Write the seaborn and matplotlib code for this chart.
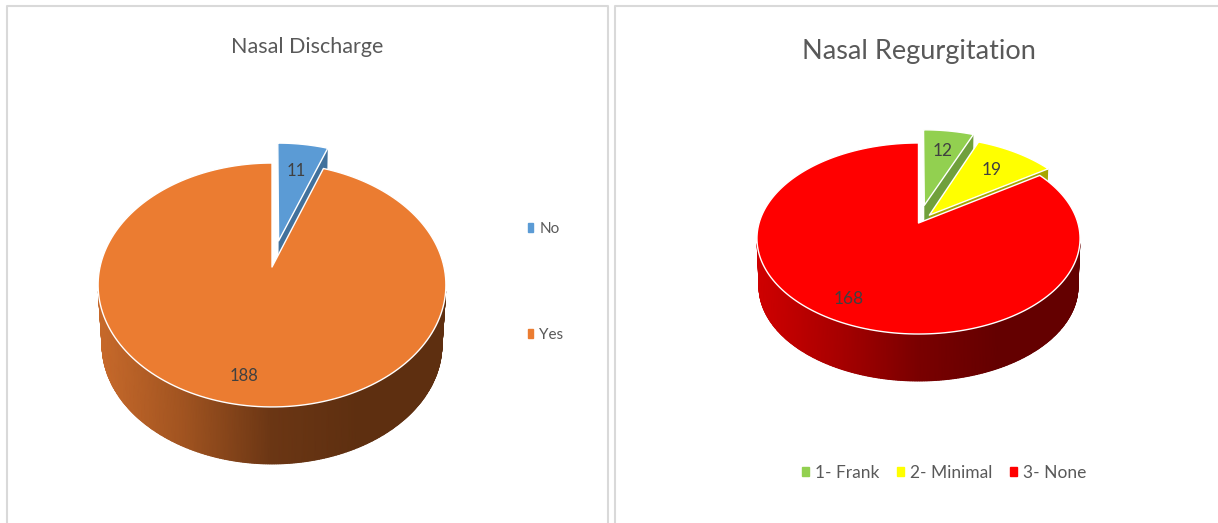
import numpy as np
import matplotlib
matplotlib.use('Agg')
import matplotlib.pyplot as plt
from matplotlib.patches import Patch
import seaborn as sns

# values
discharge_labels = ['No', 'Yes']
discharge_values = [11, 188]
regurg_labels = ['1- Frank', '2- Minimal', '3- None']
regurg_values = [12, 19, 168]

sns.set_theme(style='white')
plt.rcParams['font.family'] = ['Lato', 'DejaVu Sans']

TEXT = '#595959'
LABEL = '#404040'
FRAME = '#d9d9d9'


def project(u, v, geo):
    # flat disc coords to picture pixels, with a bit of perspective
    w = 1 + geo['p'] * v
    return geo['x0'] + geo['A'] * u / w, geo['y0'] - geo['B'] * v / w


def drop(x, y, geo):
    # top rim point to the matching point on the bottom rim
    xb = geo['x0'] + (x - geo['x0']) * geo['s']
    yb = geo['cy'] + geo['d'] + (y - geo['cy']) * geo['s']
    return xb, yb


def draw_pie(ax, values, colors, side_colors, front_stops, explode, geo):
    total = sum(values)
    fracs = np.array(values) / total
    starts = np.concatenate([[0], np.cumsum(fracs)[:-1]]) * 2 * np.pi
    ends = starts + fracs * 2 * np.pi

    for i in range(len(values)):
        mid = (starts[i] + ends[i]) / 2
        ex, ey = explode[i] * np.sin(mid), explode[i] * np.cos(mid)
        t = np.linspace(starts[i], ends[i], 200)
        u = np.concatenate([[ex], ex + np.sin(t), [ex]])
        v = np.concatenate([[ey], ey + np.cos(t), [ey]])
        x, y = project(u, v, geo)

        if i == len(values) - 1:
            # the big slice has the round front wall
            skip = np.arcsin(geo['p']) + 0.05
            a = np.linspace(np.pi + skip, 2 * np.pi - skip, 300)
            xt, yt = project(np.cos(a), np.sin(a), geo)
            xb, yb = drop(xt, yt, geo)
            X = np.vstack([xt, xb])
            Y = np.vstack([yt, yb])
            C = (X - X.min()) / (X.max() - X.min())
            cmap = sns.blend_palette(front_stops, as_cmap=True)
            ax.pcolormesh(X, Y, C, cmap=cmap, shading='gouraud', zorder=2 + i * 2)
        else:
            # cut face of a pulled out slice, mostly hidden by the next one
            xa, ya = project(np.array([ex, ex + np.sin(ends[i])]),
                             np.array([ey, ey + np.cos(ends[i])]), geo)
            xc, yc = drop(xa, ya, geo)
            ax.fill([xa[0], xa[1], xc[1], xc[0]], [ya[0], ya[1], yc[1], yc[0]],
                    color=side_colors[i], lw=0, zorder=2 + i * 2)

        ax.fill(x, y, facecolor=colors[i], edgecolor='white', lw=1.0,
                joinstyle='round', zorder=3 + i * 2)

        r = 0.82 if fracs[i] > 0.5 else 0.7
        lx, ly = project(ex + r * np.sin(mid), ey + r * np.cos(mid), geo)
        ax.text(lx, ly, str(values[i]), color=LABEL, fontsize=geo['fs'],
                ha='center', va='center', zorder=20)


fig, (ax1, ax2) = plt.subplots(1, 2, figsize=(12.18, 5.23), dpi=100)
ax1.set_position([0, 0, 610 / 1218, 1])
ax2.set_position([610 / 1218, 0, 608 / 1218, 1])
ax1.set_xlim(0, 610)
ax2.set_xlim(610, 1218)
for ax in (ax1, ax2):
    ax.set_ylim(523, 0)
    ax.axis('off')

# panel borders
ax1.plot([7, 7, 607.5, 607.5], [523, 6, 6, 523], color=FRAME, lw=1.5)
ax2.plot([615, 615, 1218], [523, 6, 6], color=FRAME, lw=1.5)

left_colors = sns.color_palette(['#5b9bd5', '#eb7c31'])
left_sides = ['#41719c', '#ae5a21']
left_front = ['#c86a2b', '#a05320', '#6b3614', '#5e2f10', '#5e2f10']
draw_pie(ax1, discharge_values, left_colors, left_sides, left_front, [0.23, 0],
         dict(x0=272, y0=267, A=172, B=119.3, p=0.1475, cy=285, s=0.977, d=59.8, fs=12))

right_colors = sns.color_palette(['#92d050', '#ffff00', '#ff0000'])
right_sides = ['#70a03c', '#a6a600', '#b00000']
right_front = ['#d00000', '#a80000', '#7a0000', '#640000', '#640000']
draw_pie(ax2, regurg_values, right_colors, right_sides, right_front, [0.2, 0.11, 0],
         dict(x0=918.5, y0=223, A=159.4, B=93, p=0.1623, cy=238.5, s=0.987, d=48.2, fs=12.5))

ax1.text(307, 47, 'Nasal Discharge', color=TEXT, fontsize=15.5, ha='center', va='center')
ax2.text(919, 51, 'Nasal Regurgitation', color=TEXT, fontsize=19.5, ha='center', va='center')

h1 = [Patch(color=c, label=l) for c, l in zip(left_colors, discharge_labels)]
ax1.legend(handles=h1, loc='center left', bbox_to_anchor=(528, 282),
           bbox_transform=ax1.transData, frameon=False, fontsize=11, labelcolor=TEXT,
           handlelength=0.35, handleheight=0.5, handletextpad=0.4, labelspacing=6.0,
           borderpad=0, borderaxespad=0)

h2 = [Patch(color=c, label=l) for c, l in zip(right_colors, regurg_labels)]
ax2.legend(handles=h2, loc='center', bbox_to_anchor=(944, 473),
           bbox_transform=ax2.transData, frameon=False, fontsize=12.5, labelcolor=TEXT,
           ncol=3, handlelength=0.4, handleheight=0.4, handletextpad=0.35, columnspacing=1.0,
           borderpad=0, borderaxespad=0)

fig.savefig('out.png', dpi=100)
